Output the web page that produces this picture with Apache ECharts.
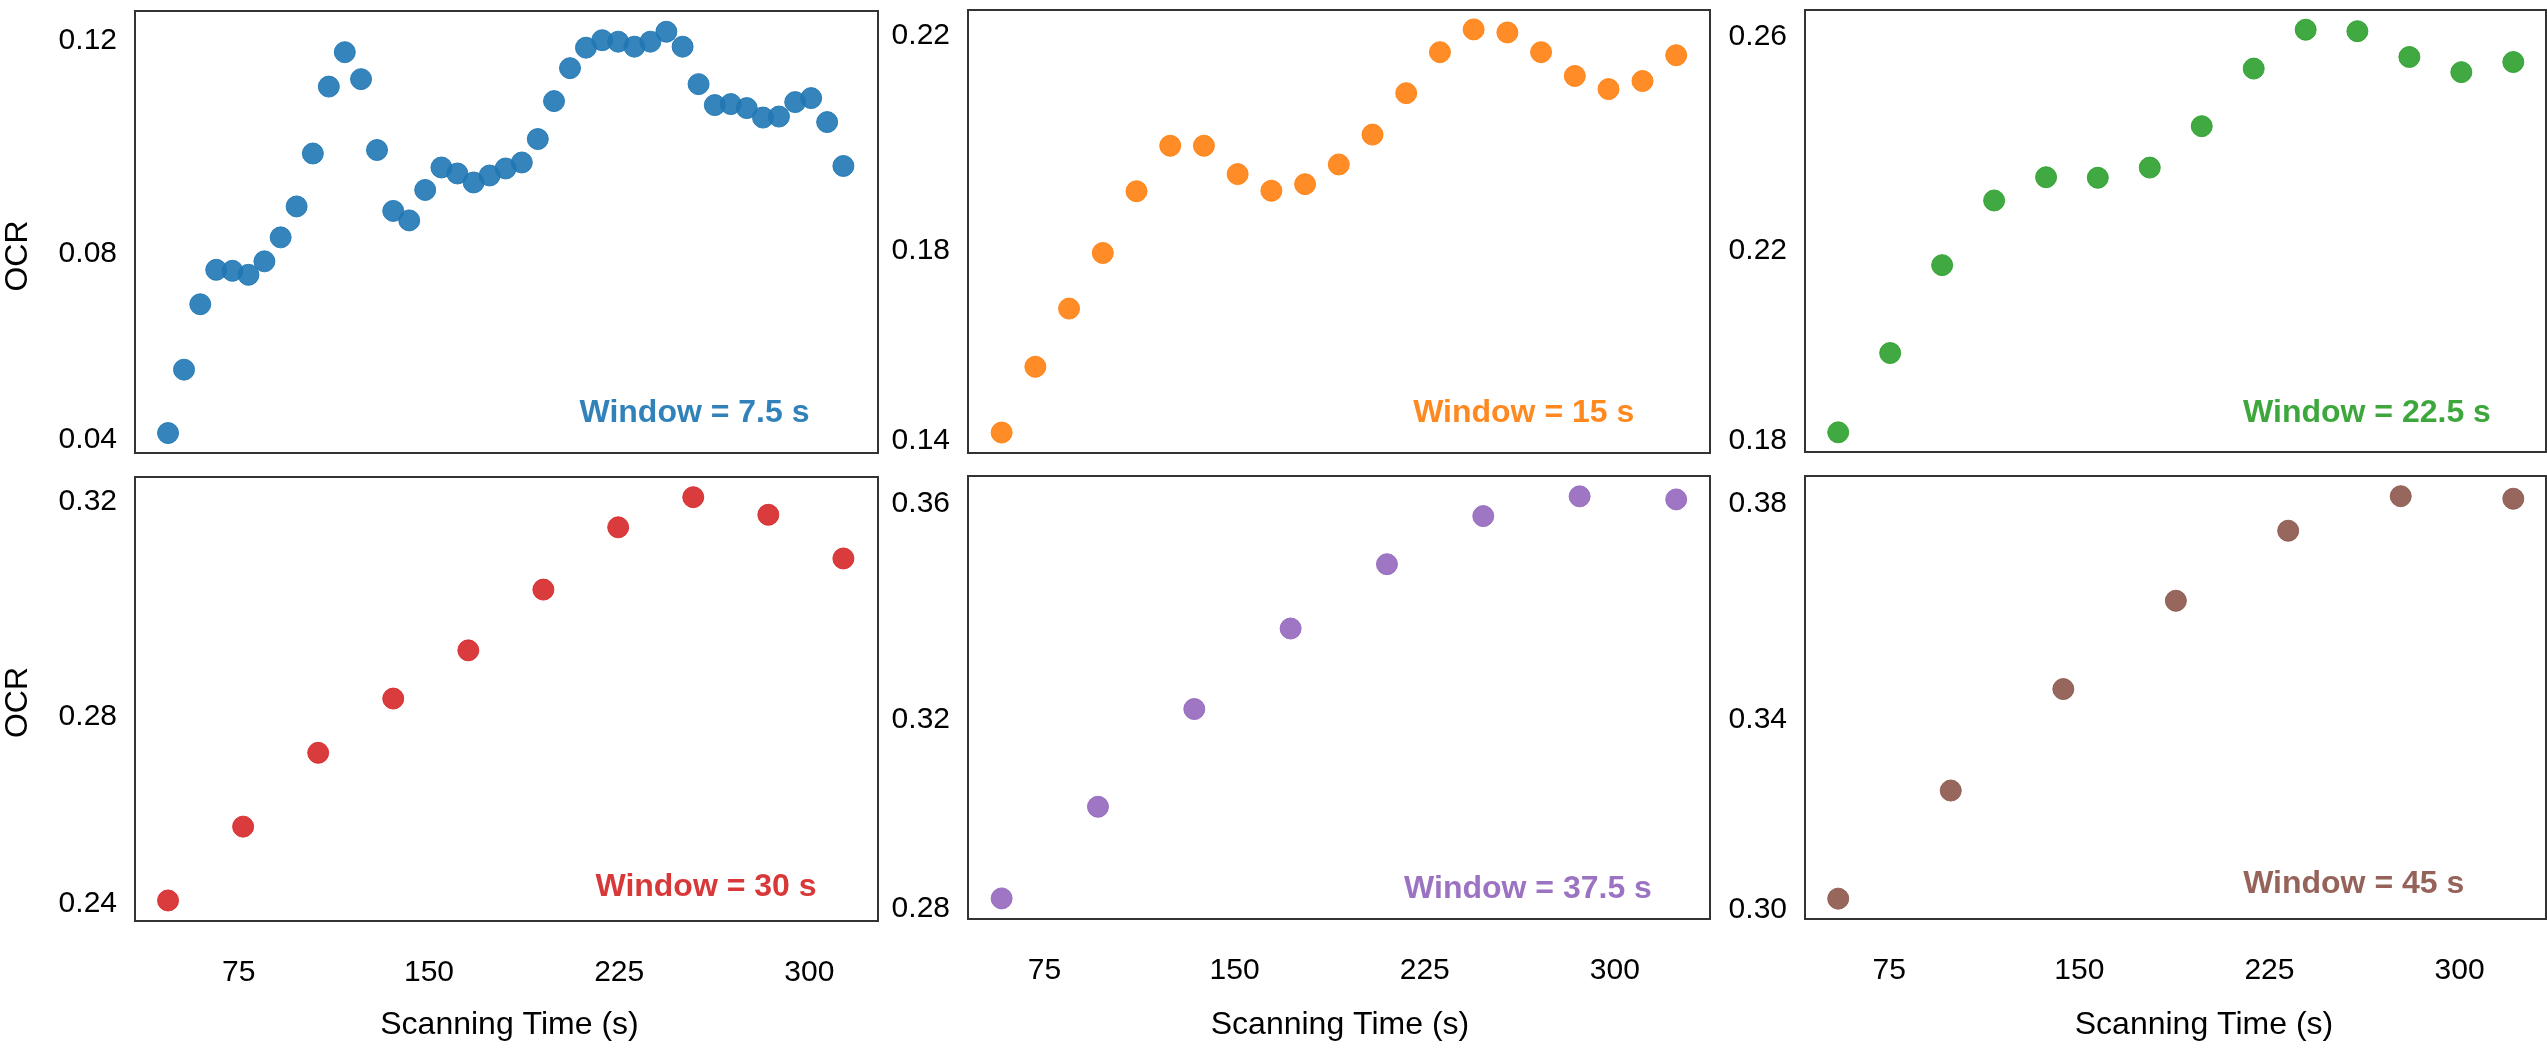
<!DOCTYPE html>
<html>
<head>
<meta charset="utf-8">
<script src="https://cdn.jsdelivr.net/npm/echarts@6/dist/echarts.min.js"></script>
<style>
html,body{margin:0;padding:0;background:#fff;}
#chart{width:2547px;height:1052px;}
</style>
</head>
<body>
<div id="chart"></div>
<script>
// ---------------- data ----------------
const windows = ['7.5', '15', '22.5', '30', '37.5', '45'];
const xTicks = [75, 150, 225, 300];
const yTickLabels = [
  ['0.04', '0.08', '0.12'],
  ['0.14', '0.18', '0.22'],
  ['0.18', '0.22', '0.26'],
  ['0.24', '0.28', '0.32'],
  ['0.28', '0.32', '0.36'],
  ['0.30', '0.34', '0.38']
];
// tick positions on each value axis (label text above is what is shown)
const yTickPos = [
  [0.04, 0.07736, 0.12],
  [0.14, 0.17746, 0.22],
  [0.18, 0.2175, 0.26],
  [0.24, 0.27723, 0.32],
  [0.28, 0.3174, 0.36],
  [0.30, 0.33733, 0.38]
];

const x_w7_5 = [47.1, 53.4, 59.8, 66.1, 72.5, 78.8, 85.1, 91.5, 97.8, 104.2, 110.5, 116.8, 123.2, 129.5, 135.9, 142.2, 148.5, 154.9, 161.2, 167.6, 173.9, 180.2, 186.6, 192.9, 199.3, 205.6, 211.9, 218.3, 224.6, 231.0, 237.3, 243.6, 250.0, 256.3, 262.7, 269.0, 275.3, 281.7, 288.0, 294.4, 300.7, 307.0, 313.4];
const y_w7_5 = [0.0414, 0.0541, 0.0672, 0.0741, 0.0739, 0.0731, 0.0758, 0.0806, 0.0868, 0.0974, 0.1108, 0.1177, 0.1123, 0.0981, 0.0859, 0.0840, 0.0901, 0.0946, 0.0934, 0.0916, 0.0930, 0.0944, 0.0956, 0.1003, 0.1079, 0.1145, 0.1186, 0.1201, 0.1198, 0.1188, 0.1198, 0.1218, 0.1188, 0.1113, 0.1071, 0.1073, 0.1065, 0.1046, 0.1048, 0.1077, 0.1085, 0.1037, 0.0949];

const x_w15 = [58.1, 71.4, 84.7, 98.0, 111.3, 124.6, 137.9, 151.2, 164.5, 177.8, 191.1, 204.4, 217.7, 231.0, 244.3, 257.6, 270.9, 284.2, 297.5, 310.9, 324.2];
const y_w15 = [0.1416, 0.1546, 0.1661, 0.1771, 0.1893, 0.1983, 0.1983, 0.1927, 0.1894, 0.1907, 0.1946, 0.2005, 0.2087, 0.2168, 0.2213, 0.2207, 0.2168, 0.2121, 0.2095, 0.2111, 0.2162];

const x_w22_5 = [54.9, 75.4, 95.9, 116.4, 136.9, 157.3, 177.8, 198.3, 218.8, 239.3, 259.7, 280.2, 300.7, 321.2];
const y_w22_5 = [0.1816, 0.1973, 0.2147, 0.2275, 0.2321, 0.2320, 0.2340, 0.2422, 0.2536, 0.2613, 0.2610, 0.2559, 0.2529, 0.2549];

const x_w30 = [47.1, 76.7, 106.3, 135.9, 165.5, 195.1, 224.6, 254.2, 283.8, 313.4];
const y_w30 = [0.2407, 0.2554, 0.2701, 0.2809, 0.2905, 0.3026, 0.3150, 0.3210, 0.3175, 0.3088];

const x_w37_5 = [58.1, 96.1, 134.1, 172.1, 210.1, 248.1, 286.1, 324.2];
const y_w37_5 = [0.2821, 0.3002, 0.3195, 0.3354, 0.3481, 0.3576, 0.3615, 0.3609];

const x_w45 = [54.9, 99.3, 143.7, 188.1, 232.4, 276.8, 321.2];
const y_w45 = [0.3021, 0.3234, 0.3434, 0.3608, 0.3746, 0.3814, 0.3809];

const seriesX = [x_w7_5, x_w15, x_w22_5, x_w30, x_w37_5, x_w45];
const seriesY = [y_w7_5, y_w15, y_w22_5, y_w30, y_w37_5, y_w45];

// ---------------- layout / style ----------------
const colors = ['31,119,180', '255,127,14', '44,160,44', '214,39,40', '148,103,189', '140,86,75'];
const grids = [
  {left: 135, top: 11, width: 743, height: 442},
  {left: 968, top: 10, width: 742, height: 443},
  {left: 1805, top: 10, width: 741, height: 442},
  {left: 135, top: 477, width: 743, height: 444},
  {left: 968, top: 476, width: 742, height: 443},
  {left: 1805, top: 476, width: 741, height: 443}
];
const xRanges = [[34.07, 327.05], [44.83, 337.53], [41.8, 334.1]];
const yRanges = [
  [0.0374, 0.12595],
  [0.13755, 0.22514],
  [0.17771, 0.2652],
  [0.23661, 0.32502],
  [0.27803, 0.36552],
  [0.29809, 0.38538]
];
const winLabelPos = [[694.5, 413.3], [1523.7, 412.9], [2367, 412.8], [706, 886.7], [1528, 888.7], [2353.7, 884.2]];
const FONT = '"Liberation Sans", Arial, Helvetica, sans-serif';

const chart = echarts.init(document.getElementById('chart'), null, {renderer: 'canvas'});

const gridOpts = grids.map(g => Object.assign({show: true, borderColor: '#333', borderWidth: 2, backgroundColor: 'transparent', containLabel: false}, g));

const xAxes = grids.map((g, i) => {
  const col = i % 3;
  const bottom = i >= 3;
  return {
    type: 'value', gridIndex: i,
    min: xRanges[col][0], max: xRanges[col][1],
    axisLine: {show: false}, axisTick: {show: false}, splitLine: {show: false},
    axisLabel: {
      show: bottom, customValues: xTicks, margin: 37,
      fontSize: 30, color: '#000', fontFamily: FONT,
      formatter: v => String(Math.round(v))
    }
  };
});

const yAxes = grids.map((g, i) => ({
  type: 'value', gridIndex: i,
  min: yRanges[i][0], max: yRanges[i][1],
  axisLine: {show: false}, axisTick: {show: false}, splitLine: {show: false},
  axisLabel: {
    show: true, customValues: yTickPos[i], margin: 18,
    fontSize: 30, color: '#000', fontFamily: FONT,
    formatter: v => {
      const k = yTickPos[i].findIndex(p => Math.abs(p - v) < 1e-9);
      return k >= 0 ? yTickLabels[i][k] : v.toFixed(2);
    }
  }
}));

const series = seriesX.map((xs, i) => ({
  type: 'scatter', xAxisIndex: i, yAxisIndex: i,
  symbol: 'circle', symbolSize: 21,
  itemStyle: {color: 'rgba(' + colors[i] + ',0.9)', borderColor: 'rgba(' + colors[i] + ',0.9)', borderWidth: 1, opacity: 1},
  emphasis: {disabled: true},
  data: xs.map((x, k) => [x, seriesY[i][k]])
}));

const graphics = [];
windows.forEach((w, i) => {
  graphics.push({
    type: 'text', x: winLabelPos[i][0], y: winLabelPos[i][1], silent: true,
    style: {
      text: 'Window = ' + w + ' s', fill: 'rgba(' + colors[i] + ',0.92)',
      font: 'bold 32px ' + FONT,
      align: 'center', verticalAlign: 'middle', textAlign: 'center', textVerticalAlign: 'middle'
    }
  });
});
[[18.3, 256], [18.3, 702.5]].forEach(p => {
  graphics.push({
    type: 'text', x: p[0], y: p[1], rotation: Math.PI / 2, silent: true,
    style: {text: 'OCR', fill: '#000', font: '32px ' + FONT, align: 'center', verticalAlign: 'middle', textAlign: 'center', textVerticalAlign: 'middle'}
  });
});
[509.5, 1340, 2204].forEach(x => {
  graphics.push({
    type: 'text', x: x, y: 1025, silent: true,
    style: {text: 'Scanning Time (s)', fill: '#000', font: '32px ' + FONT, align: 'center', verticalAlign: 'middle', textAlign: 'center', textVerticalAlign: 'middle'}
  });
});

chart.setOption({
  backgroundColor: '#fff',
  animation: false,
  grid: gridOpts,
  xAxis: xAxes,
  yAxis: yAxes,
  series: series,
  graphic: graphics
});
</script>
</body>
</html>
